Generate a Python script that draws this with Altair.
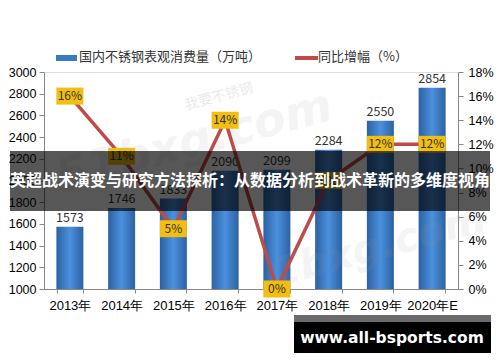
import altair as alt
import pandas as pd

years = ["2013年", "2014年", "2015年", "2016年", "2017年", "2018年", "2019年", "2020年E"]
consumption = [1573, 1746, 1833, 2090, 2099, 2284, 2550, 2854]
growth = [16, 11, 5, 14, 0, 9, 12, 12]

title_text = "英超战术演变与研究方法探析：从数据分析到战术革新的多维度视角"
site_text = "www.all-bsports.com"
legend_bar = "国内不锈钢表观消费量（万吨）"
legend_line = "同比增幅（%）"

df = pd.DataFrame({"year": years, "cons": consumption, "g": growth})
df["lab"] = [f"{v}%" for v in growth]
dummy = pd.DataFrame({"a": [0]})

FONT = "Noto Sans CJK SC"
W, H = 414, 217

x_enc = alt.X("year:N", sort=years, title=None,
              scale=alt.Scale(paddingInner=0.5, paddingOuter=0.25),
              axis=alt.Axis(labelAngle=0, tickBand="extent", tickSize=4, labelPadding=6,
                            labelFontSize=13))

y_left = alt.Y("cons:Q", title=None,
               scale=alt.Scale(domain=[1000, 3000], zero=False, nice=False),
               axis=alt.Axis(values=list(range(1000, 3001, 200)), format="d", tickSize=5,
                             grid=False, labelPadding=3, labelOverlap=False,
                             labelFontSize=12.5))
y_right = alt.Y("g:Q", title=None, scale=alt.Scale(domain=[0, 18], nice=False),
                axis=alt.Axis(orient="right", values=list(range(0, 19, 2)),
                              labelExpr="datum.value + '%'", tickSize=5, grid=False,
                              labelPadding=5, labelOverlap=False, labelFontSize=12.5))

bar_grad = alt.Gradient(gradient="linear",
                        stops=[alt.GradientStop(color="#2B62A3", offset=0),
                               alt.GradientStop(color="#4C90DC", offset=0.5),
                               alt.GradientStop(color="#2B62A3", offset=1)],
                        x1=0, x2=1, y1=0, y2=0)

lbase = alt.Chart(df).encode(x=x_enc, y=y_left)
bars = lbase.mark_bar(color=bar_grad, width=27).encode(y2=alt.datum(1000))
bar_labels = lbase.mark_text(dy=-9, fontSize=12.5, color="#333", font=FONT).encode(
    text="cons:Q")
left = alt.layer(bars, bar_labels)

rbase = alt.Chart(df).encode(x=x_enc, y=y_right)
line = rbase.mark_line(color="#BE4B48", strokeWidth=3.5)
boxes = rbase.mark_point(shape="M-1,-0.63L1,-0.63L1,0.63L-1,0.63Z", size=729, filled=True,
                         color="#F2BE0F", opacity=1, strokeWidth=0)
pct = rbase.mark_text(fontSize=12, color="#333", font=FONT).encode(text="lab:N")
right = alt.layer(line, boxes, pct)

ov = alt.Chart(dummy)
wm1 = ov.mark_text(text="51bxg.com", fontSize=46, fontWeight="bold", fontStyle="italic",
                   color="#999", opacity=0.1, angle=345, font="DejaVu Sans").encode(
    x=alt.value(150), y=alt.value(70))
wm2 = ov.mark_text(text="我要不锈钢", fontSize=14, color="#999", opacity=0.2, angle=345,
                   font=FONT).encode(x=alt.value(175), y=alt.value(25))
wm3 = ov.mark_text(text="1bxg.com", fontSize=40, fontWeight="bold", fontStyle="italic",
                   color="#999", opacity=0.1, angle=345, font="DejaVu Sans").encode(
    x=alt.value(335), y=alt.value(175))

leg_rect = ov.mark_rect(color="#3A78C0").encode(
    x=alt.value(12), x2=alt.value(33), y=alt.value(-17), y2=alt.value(-11))
leg_t1 = ov.mark_text(text=legend_bar, align="left", baseline="middle", fontSize=13,
                      color="#333", font=FONT).encode(x=alt.value(35), y=alt.value(-15))
leg_rule = ov.mark_rule(color="#BE4B48", strokeWidth=4).encode(
    x=alt.value(251), x2=alt.value(274), y=alt.value(-14))
leg_t2 = ov.mark_text(text=legend_line, align="left", baseline="middle", fontSize=13,
                      color="#333", font=FONT).encode(x=alt.value(274), y=alt.value(-15))

banner = ov.mark_rect(color="#000", opacity=0.66).encode(
    x=alt.value(-34), x2=alt.value(446), y=alt.value(79), y2=alt.value(139))
banner_t = ov.mark_text(text=title_text, fontSize=16, fontWeight="bold", color="white",
                        align="center", baseline="middle", font=FONT).encode(
    x=alt.value(206), y=alt.value(109))

box_top = ov.mark_rect(color="#6B6B6B").encode(
    x=alt.value(250), x2=alt.value(447), y=alt.value(243), y2=alt.value(250))
box = ov.mark_rect(color="#000").encode(
    x=alt.value(250), x2=alt.value(447), y=alt.value(250), y2=alt.value(281))
box_t = ov.mark_text(text=site_text, fontSize=15.5, fontWeight="bold", color="white",
                     align="center", baseline="middle", font="DejaVu Sans").encode(
    x=alt.value(348), y=alt.value(266))

chart = alt.layer(
    left, wm1, wm2, wm3, right,
    leg_rect, leg_t1, leg_rule, leg_t2,
    banner, banner_t, box_top, box, box_t
).resolve_scale(y="independent").properties(
    width=W, height=H,
    autosize=alt.AutoSizeParams(type="none"),
    padding={"left": 44, "top": 72, "right": 42, "bottom": 73},
).configure_view(stroke=None).configure_axis(
    labelFontSize=12, labelColor="#333", labelFont=FONT, domainColor="#999",
    tickColor="#999", grid=False
).configure(background="white")

chart.save("out.html", embed_options={"renderer": "svg", "actions": False})
